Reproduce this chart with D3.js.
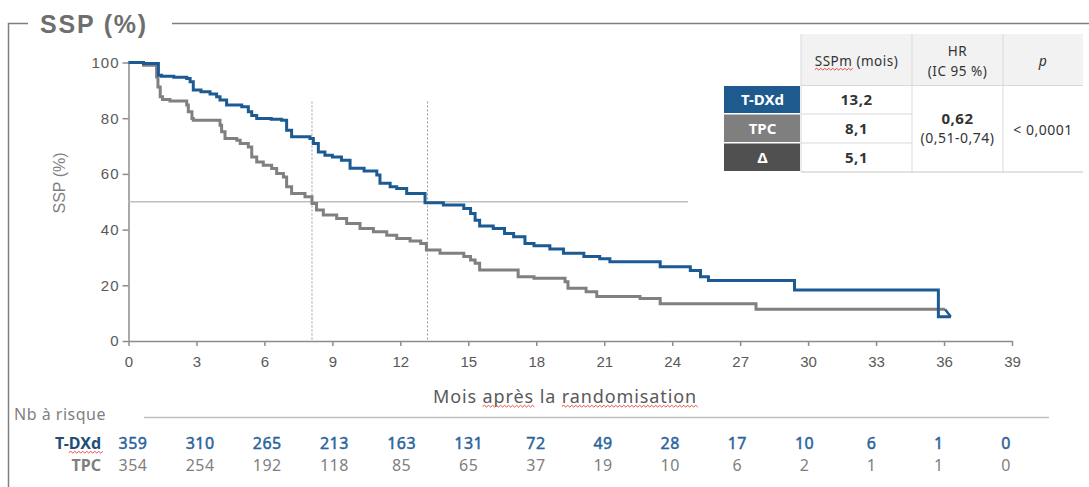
<!DOCTYPE html>
<html>
<head>
<meta charset="utf-8">
<script src="https://cdn.jsdelivr.net/npm/d3@7"></script>
<style>
  body { margin: 0; background: #fff; }
  svg text { font-family: "Noto Sans", sans-serif; }
  .axis text { font-family: "Liberation Sans", Arial, sans-serif; font-size: 15px; fill: #595959; }
  .axis path, .axis line { stroke: #8c8c8c; stroke-width: 1.5; }
</style>
</head>
<body>
<div id="chart"></div>
<script>
// x axis ticks (months) and y axis ticks (%)
var months = [0, 3, 6, 9, 12, 15, 18, 21, 24, 27, 30, 33, 36, 39];
var yTicks = [0, 20, 40, 60, 80, 100];

// KM steps: [month, SSP %]
var tdxdSteps = [[0, 100], [0.66, 99.6], [1.32, 95.4], [1.46, 95.1], [2.0, 94.7], [2.57, 94.3], [2.72, 93.1],
  [2.86, 90.1], [3.2, 89.5], [3.6, 88.7], [3.89, 87.7], [4.04, 86.5], [4.33, 84.7], [5.0, 84.1], [5.29, 82.3],
  [5.44, 81.0], [5.66, 79.9], [6.3, 79.6], [6.76, 79.3], [6.98, 75.7], [7.2, 73.3], [8.01, 72.7], [8.16, 70.9],
  [8.38, 67.9], [8.67, 66.7], [9.0, 66.1], [9.4, 64.9], [9.78, 62.0], [10.4, 61.0], [10.96, 59.6], [11.1, 56.6],
  [11.55, 55.4], [11.84, 54.8], [12.28, 53.0], [13.09, 49.6], [13.9, 48.8], [14.8, 47.6], [15.1, 45.8],
  [15.3, 43.4], [15.5, 41.3], [16.1, 40.4], [16.6, 38.6], [17.0, 37.4], [17.5, 35.0], [17.9, 34.2], [18.6, 33.0],
  [19.2, 31.5], [20.1, 30.3], [20.8, 29.5], [21.25, 28.5], [23.47, 26.7], [24.8, 25.3], [25.25, 23.1],
  [25.6, 21.7], [29.4, 18.3], [35.75, 8.7], [36.3, 8.7]];
var tdxdCensor = [[36.3, 8.7], [36.05, 11.3]];

var tpcSteps = [[0, 100], [0.66, 99.0], [1.24, 94.8], [1.30, 91.2], [1.40, 87.7], [1.5, 86.7], [1.83, 86.2],
  [2.57, 84.7], [2.64, 82.3], [2.8, 79.9], [2.86, 79.3], [4.04, 77.5], [4.11, 75.1], [4.26, 72.7], [4.78, 72.1],
  [4.93, 70.9], [5.29, 69.7], [5.44, 66.1], [5.66, 64.3], [5.95, 63.1], [6.32, 61.9], [6.54, 60.1], [6.84, 58.9],
  [6.98, 55.4], [7.2, 53.0], [7.79, 51.8], [8.1, 49.4], [8.3, 47.0], [8.6, 45.2], [9.19, 44.0], [9.63, 42.2],
  [10.22, 40.4], [10.81, 39.2], [11.4, 38.0], [11.84, 36.8], [12.43, 35.9], [12.9, 35.0], [13.15, 32.7],
  [13.75, 31.5], [14.8, 30.3], [15.1, 29.1], [15.3, 27.9], [15.5, 25.5], [17.2, 23.1], [17.9, 22.5],
  [19.27, 21.3], [19.4, 18.9], [20.2, 17.7], [20.67, 16.0], [22.58, 15.3], [23.47, 13.4], [27.7, 11.4],
  [36.05, 11.4]];

// medians (months), 50% guide
var medians = [8.1, 13.2];
var medianTop = 86;
var halfLineEnd = 24.7;

// numbers at risk
var riskTDXd = [359, 310, 265, 213, 163, 131, 72, 49, 28, 17, 10, 6, 1, 0];
var riskTPC = [354, 254, 192, 118, 85, 65, 37, 19, 10, 6, 2, 1, 1, 0];

// summary table
var armLabels = ["T-DXd", "TPC", "\u0394"];
var medianPfs = ["13,2", "8,1", "5,1"];
var hrValue = "0,62";
var hrCi = "(0,51-0,74)";
var pValue = "< 0,0001";

var blue = "#1c5a93", grey = "#808080";

var svg = d3.select("#chart").append("svg")
  .attr("width", 1089).attr("height", 487);

var x = d3.scaleLinear().domain([0, 39]).range([128.5, 1012]);
var y = d3.scaleLinear().domain([0, 100]).range([341, 62.5]);
var xRisk = d3.scaleLinear().domain([0, 39]).range([133, 1006]);

// red spell-check squiggle under a word of a text node
function squiggle(node, word) {
  var i = node.textContent.indexOf(word);
  var x0 = node.getStartPositionOfChar(i).x,
    x1 = node.getEndPositionOfChar(i + word.length - 1).x,
    yy = node.getStartPositionOfChar(i).y + 3.5;
  var p = "M" + x0 + "," + yy, up = true;
  for (var xx = x0; xx < x1; xx += 2) {
    p += "L" + (xx + 2) + "," + (yy + (up ? -1.2 : 0.6));
    up = !up;
  }
  svg.append("path").attr("d", p).attr("fill", "none")
    .attr("stroke", "#e8403a").attr("stroke-width", 0.9);
}

// frame + title
svg.append("path").attr("d", "M8.5,487V23.5H28M172,23.5H1089")
  .attr("fill", "none").attr("stroke", "#7f7f7f").attr("stroke-width", 1.5);
svg.append("text").attr("x", 40).attr("y", 33)
  .style("font-family", "'Liberation Sans', Arial, sans-serif")
  .style("font-size", "25px").style("font-weight", "bold").style("letter-spacing", "1.8px")
  .style("fill", "#6e6e6e").text("SSP (%)");

// axes
var xAxis = d3.axisBottom(x).tickValues(months).tickSize(5).tickSizeOuter(0).tickPadding(10);
svg.append("g").attr("class", "axis").attr("transform", "translate(0,341)").call(xAxis);
var yAxis = d3.axisLeft(y).tickValues(yTicks).tickSize(6).tickSizeOuter(0).tickPadding(3);
svg.append("g").attr("class", "axis").attr("transform", "translate(128.5,0)").call(yAxis)
  .selectAll("text").style("letter-spacing", "1px");

svg.append("text").attr("transform", "translate(65,183) rotate(-90)")
  .style("font-family", "'Liberation Sans', Arial, sans-serif")
  .style("font-size", "16px").style("fill", "#7f7f7f").style("text-anchor", "middle")
  .text("SSP (%)");

var xTitle = svg.append("text").attr("x", 565).attr("y", 403)
  .style("font-size", "18px").style("letter-spacing", "0.9px")
  .style("fill", "#595959").style("text-anchor", "middle")
  .text("Mois après la randomisation");
squiggle(xTitle.node(), "après");
squiggle(xTitle.node(), "randomisation");

// median guides
svg.append("line").attr("x1", x(0)).attr("x2", x(halfLineEnd))
  .attr("y1", y(50)).attr("y2", y(50))
  .attr("stroke", "#bfbfbf").attr("stroke-width", 1.5);
svg.selectAll(".median").data(medians).enter().append("line")
  .attr("class", "median")
  .attr("x1", function (d) { return x(d); }).attr("x2", function (d) { return x(d); })
  .attr("y1", y(medianTop)).attr("y2", y(0))
  .attr("stroke", "#9a9a9a").attr("stroke-width", 1).attr("stroke-dasharray", "2,2");

// curves
var step = d3.line()
  .x(function (d) { return x(d[0]); })
  .y(function (d) { return y(d[1]); })
  .curve(d3.curveStepAfter);
var straight = d3.line()
  .x(function (d) { return x(d[0]); })
  .y(function (d) { return y(d[1]); });

svg.append("path").attr("d", step(tpcSteps)).attr("fill", "none")
  .attr("stroke", grey).attr("stroke-width", 3);
svg.append("path").attr("d", step(tdxdSteps)).attr("fill", "none")
  .attr("stroke", blue).attr("stroke-width", 3);
svg.append("path").attr("d", straight(tdxdCensor)).attr("fill", "none")
  .attr("stroke", blue).attr("stroke-width", 2.5);

// summary table
var tbl = svg.append("g");
var colX = [724, 801, 912, 1003, 1083];
var rowY = [34, 85.5, 114, 143, 172];
var armFill = ["#1f5a8f", "#7f7f7f", "#505050"];

tbl.append("rect").attr("x", colX[1]).attr("y", rowY[0])
  .attr("width", colX[4] - colX[1]).attr("height", rowY[1] - rowY[0]).attr("fill", "#f2f2f2");
tbl.selectAll(".arm").data(armLabels).enter().append("rect")
  .attr("x", colX[0]).attr("y", function (d, i) { return rowY[i + 1] + 0.5; })
  .attr("width", colX[1] - colX[0] - 1).attr("height", function (d, i) { return rowY[i + 2] - rowY[i + 1] - 1.5; })
  .attr("fill", function (d, i) { return armFill[i]; });
tbl.selectAll(".armtxt").data(armLabels).enter().append("text")
  .attr("x", (colX[0] + colX[1]) / 2).attr("y", function (d, i) { return (rowY[i + 1] + rowY[i + 2]) / 2 + 5; })
  .style("text-anchor", "middle").style("font-size", "15px").style("font-weight", "bold").style("fill", "#fff")
  .text(function (d) { return d; });

var gridc = "#d9d9d9";
[colX[1], colX[2], colX[3]].forEach(function (cx) {
  tbl.append("line").attr("x1", cx).attr("x2", cx).attr("y1", rowY[0]).attr("y2", rowY[4])
    .attr("stroke", gridc).attr("stroke-width", 1);
});
tbl.append("line").attr("x1", colX[1]).attr("x2", colX[4]).attr("y1", rowY[1]).attr("y2", rowY[1])
  .attr("stroke", gridc);
tbl.append("line").attr("x1", colX[1]).attr("x2", colX[4]).attr("y1", rowY[4]).attr("y2", rowY[4])
  .attr("stroke", gridc).attr("stroke-width", 1.5);
[rowY[2], rowY[3]].forEach(function (ry) {
  tbl.append("line").attr("x1", colX[1]).attr("x2", colX[2]).attr("y1", ry).attr("y2", ry)
    .attr("stroke", gridc);
});

var c1 = (colX[1] + colX[2]) / 2, c2 = (colX[2] + colX[3]) / 2, c3 = (colX[3] + colX[4]) / 2;
function cellText(cx, cy, txt, size, bold) {
  return tbl.append("text").attr("x", cx).attr("y", cy).style("text-anchor", "middle")
    .style("font-size", size + "px").style("letter-spacing", "0.5px")
    .style("font-weight", bold ? "bold" : "normal").style("fill", "#333").text(txt);
}
var head1 = cellText(c1, 66, "SSPm (mois)", 13.5, false);
cellText(c2, 56, "HR", 13.5, false);
cellText(c2, 76, "(IC 95 %)", 13.5, false);
cellText(c3, 66, "p", 14, false).style("font-style", "italic");

medianPfs.forEach(function (d, i) {
  cellText(c1, (rowY[i + 1] + rowY[i + 2]) / 2 + 5, d, 15, true);
});
cellText(c2, 124, hrValue, 15, true);
cellText(c2, 143, hrCi, 14, false);
cellText(c3, 135, pValue, 14, false);
squiggle(head1.node(), "SSPm");

// numbers at risk
svg.append("text").attr("x", 14).attr("y", 420)
  .style("font-size", "16px").style("letter-spacing", "0.5px")
  .style("fill", "#7f7f7f").text("Nb à risque");
svg.append("line").attr("x1", 144).attr("x2", 1049).attr("y1", 417.5).attr("y2", 417.5)
  .attr("stroke", "#bfbfbf").attr("stroke-width", 1.5);

var lblT = svg.append("text").attr("x", 101).attr("y", 449).style("text-anchor", "end")
  .style("font-size", "16px").style("font-weight", "bold").style("fill", "#1f4e79").text("T-DXd");
squiggle(lblT.node(), "DXd");
svg.append("text").attr("x", 101).attr("y", 471).style("text-anchor", "end")
  .style("font-size", "16px").style("font-weight", "bold").style("fill", "#7f7f7f").text("TPC");

svg.selectAll(".riskT").data(riskTDXd).enter().append("text")
  .attr("x", function (d, i) { return xRisk(months[i]); }).attr("y", 449)
  .style("text-anchor", "middle").style("font-size", "16px").style("letter-spacing", "0.5px")
  .style("fill", "#2a639c").style("stroke", "#2a639c").style("stroke-width", "0.45px")
  .text(function (d) { return d; });
svg.selectAll(".riskP").data(riskTPC).enter().append("text")
  .attr("x", function (d, i) { return xRisk(months[i]); }).attr("y", 471)
  .style("text-anchor", "middle").style("font-size", "16px").style("letter-spacing", "0.5px")
  .style("fill", "#7f7f7f").text(function (d) { return d; });
</script>
</body>
</html>
